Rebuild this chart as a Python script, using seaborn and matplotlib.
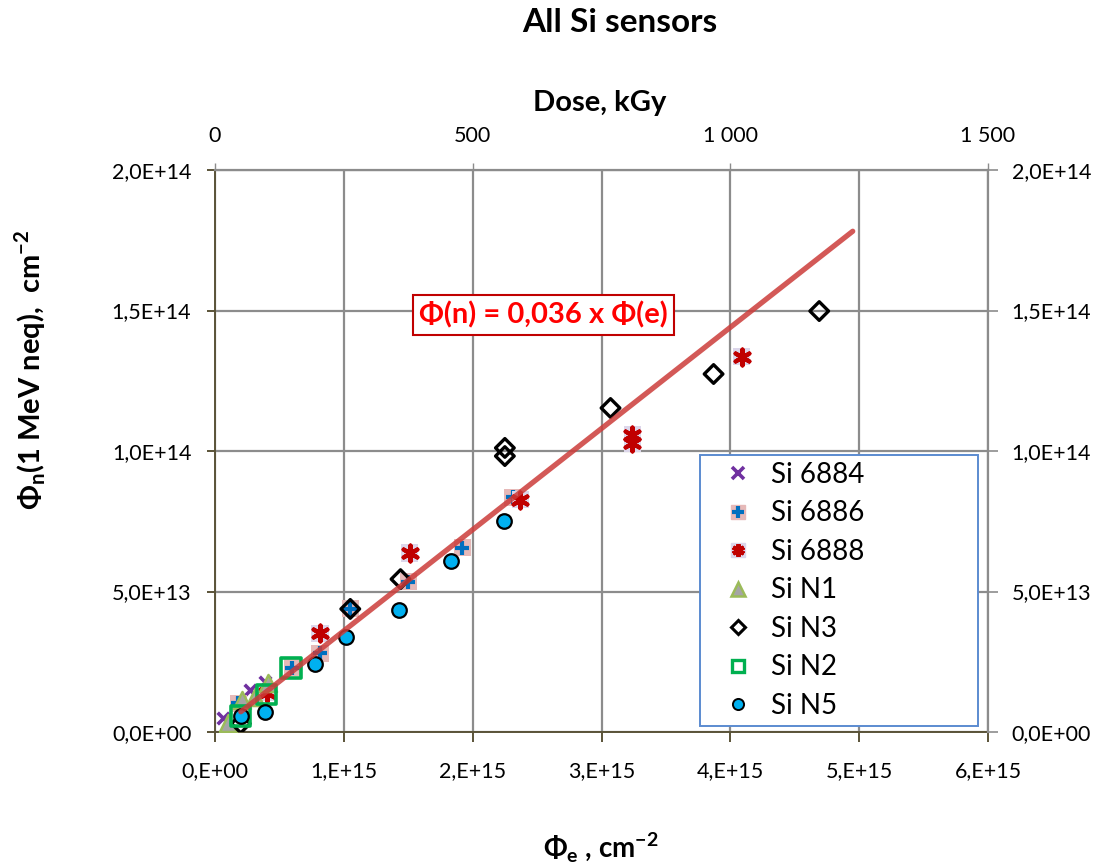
import numpy as np
import pandas as pd
import matplotlib
matplotlib.use("Agg")
import matplotlib.pyplot as plt
from matplotlib.lines import Line2D
import seaborn as sns

# ---- data (fluence of electrons vs. 1 MeV neutron-equivalent fluence) ----
si6884_e = [0.06e15, 0.27e15, 0.39e15]
si6884_n = [0.50e13, 1.50e13, 1.78e13]

si6886_e = [0.18e15, 0.60e15, 0.815e15, 1.05e15, 1.50e15, 1.92e15, 2.31e15]
si6886_n = [1.03e13, 2.28e13, 2.81e13, 4.38e13, 5.34e13, 6.55e13, 8.36e13]

si6888_e = [0.40e15, 0.815e15, 1.51e15, 2.37e15, 3.24e15, 3.24e15, 4.09e15]
si6888_n = [1.39e13, 3.52e13, 6.37e13, 8.26e13, 10.28e13, 10.57e13, 13.35e13]

siN1_e = [0.10e15, 0.21e15, 0.31e15, 0.41e15]
siN1_n = [0.32e13, 1.14e13, 1.25e13, 1.74e13]

siN3_e = [0.20e15, 1.05e15, 1.44e15, 2.25e15, 2.25e15, 3.07e15, 3.87e15, 4.69e15]
siN3_n = [0.30e13, 4.38e13, 5.44e13, 9.82e13, 10.11e13, 11.53e13, 12.74e13, 14.98e13]

siN2_e = [0.20e15, 0.40e15, 0.59e15]
siN2_n = [0.57e13, 1.32e13, 2.28e13]

siN5_e = [0.20e15, 0.39e15, 0.78e15, 1.02e15, 1.43e15, 1.83e15, 2.24e15]
siN5_n = [0.57e13, 0.72e13, 2.42e13, 3.38e13, 4.34e13, 6.09e13, 7.51e13]

fit_slope = 0.036
fit_e = np.array([0.20e15, 4.95e15])

x_ticks = [0, 1e15, 2e15, 3e15, 4e15, 5e15, 6e15]
x_ticklabels = ["0,E+00", "1,E+15", "2,E+15", "3,E+15", "4,E+15", "5,E+15", "6,E+15"]
y_ticks = [0, 5e13, 1e14, 1.5e14, 2e14]
y_ticklabels = ["0,0E+00", "5,0E+13", "1,0E+14", "1,5E+14", "2,0E+14"]
dose_ticks = [0, 500, 1000, 1500]
dose_ticklabels = ["0", "500", "1 000", "1 500"]
fluence_per_kgy = 4e12

# ---- style ----
sns.set_theme(style="white")
FONT = ["Lato", "DejaVu Sans"]
plt.rcParams["font.family"] = FONT
plt.rcParams["text.color"] = "black"
plt.rcParams["mathtext.fontset"] = "custom"
plt.rcParams["mathtext.rm"] = "Lato"
plt.rcParams["mathtext.bf"] = "Lato:bold"

GRID = "#8c8c8c"
SPINE = "#5a5338"
TICK_FS = 15.5

fig = plt.figure(figsize=(11.01, 8.66), dpi=100)
W, H = 1101, 866
ax = fig.add_axes([215 / W, 1 - 732 / H, (988 - 215) / W, (732 - 170) / H])

def frame(e, n):
    return pd.DataFrame({"e": e, "n": n})

c_6884 = "#7030a0"
c_6886 = "#0070c0"
c_6886_bg = "#e6b9b8"
c_6888 = "#c00000"
c_6888_bg = "#dcd6ea"
c_n1_face, c_n1_edge = "#a5a5a5", "#9bbb59"
c_n2 = "#00b050"
c_n5 = "#00b0f0"
star = (6, 2, 0)

sns.scatterplot(data=frame(si6884_e, si6884_n), x="e", y="n", ax=ax, marker="x",
                color=c_6884, s=70, linewidth=2.6, zorder=3)
sns.scatterplot(data=frame(si6886_e, si6886_n), x="e", y="n", ax=ax, marker="s",
                color=c_6886_bg, edgecolor="none", s=150, zorder=3)
sns.scatterplot(data=frame(si6886_e, si6886_n), x="e", y="n", ax=ax, marker="+",
                color=c_6886, s=110, linewidth=3.0, zorder=3)
sns.scatterplot(data=frame(si6888_e, si6888_n), x="e", y="n", ax=ax, marker="s",
                color=c_6888_bg, edgecolor="none", s=150, zorder=3)
sns.scatterplot(data=frame(si6888_e, si6888_n), x="e", y="n", ax=ax, marker=star,
                color=c_6888, s=130, linewidth=3.0, zorder=3)
sns.scatterplot(data=frame(siN1_e, siN1_n), x="e", y="n", ax=ax, marker="^",
                color=c_n1_face, edgecolor=c_n1_edge, linewidth=1.8, s=150, zorder=3)
sns.scatterplot(data=frame(siN3_e, siN3_n), x="e", y="n", ax=ax, marker="D",
                facecolor="none", edgecolor="black", linewidth=2.4, s=90, zorder=3)
sns.scatterplot(data=frame(siN2_e, siN2_n), x="e", y="n", ax=ax, marker="s",
                facecolor="none", edgecolor=c_n2, linewidth=2.6, s=190, zorder=3)
sns.scatterplot(data=frame(siN5_e, siN5_n), x="e", y="n", ax=ax, marker="o",
                color=c_n5, edgecolor="black", linewidth=1.6, s=110, zorder=3)

# linear fit through the origin
sns.lineplot(x=fit_e, y=fit_slope * fit_e, ax=ax, color="#cc3c3a", alpha=0.85,
             linewidth=3.8, zorder=4)

ax.text(2.55e15, 14.84e13, "Φ(n) = 0,036 x Φ(e)", color="#ff0000", fontsize=21,
        fontweight="bold", ha="center", va="center", zorder=6,
        bbox=dict(boxstyle="square,pad=0.22", facecolor="white", edgecolor=c_6888,
                  linewidth=1.5))

# ---- axes ----
ax.set_xlim(0, 6e15)
ax.set_ylim(0, 2e14)
ax.set_xticks(x_ticks)
ax.set_xticklabels(x_ticklabels)
ax.set_yticks(y_ticks)
ax.set_yticklabels(y_ticklabels)
ax.set_xlabel("")
ax.set_ylabel("")
ax.grid(True, color=GRID, linewidth=1.6)
ax.set_axisbelow(True)
for side in ("left", "bottom"):
    ax.spines[side].set_color(SPINE)
    ax.spines[side].set_linewidth(1.4)
ax.spines["right"].set_visible(False)
ax.spines["top"].set_color(GRID)
ax.spines["top"].set_linewidth(1.6)
ax.tick_params(axis="x", direction="out", length=7, width=1.4, color=SPINE,
               labelsize=TICK_FS, labelcolor="black", pad=14, bottom=True)
ax.tick_params(axis="y", direction="out", length=6, width=1.4, color=SPINE,
               labelsize=TICK_FS, labelcolor="black", pad=11, left=True)

ax2 = ax.twinx()
ax2.set_ylim(ax.get_ylim())
ax2.set_yticks(y_ticks)
ax2.set_yticklabels(y_ticklabels)
for side in ("left", "top", "bottom"):
    ax2.spines[side].set_visible(False)
ax2.spines["right"].set_color(GRID)
ax2.spines["right"].set_linewidth(1.6)
ax2.tick_params(axis="y", direction="out", length=7, width=1.2, color=GRID,
                labelsize=TICK_FS, labelcolor="black", pad=10, right=True)
ax2.grid(False)

secax = ax.secondary_xaxis("top", functions=(lambda v: v / fluence_per_kgy,
                                             lambda d: d * fluence_per_kgy))
secax.set_xticks(dose_ticks)
secax.set_xticklabels(dose_ticklabels)
secax.spines["top"].set_visible(False)
secax.tick_params(axis="x", direction="out", length=5, width=1.0, color=GRID,
                  labelsize=TICK_FS, labelcolor="black", pad=12, top=True)

# ---- legend ----
handles = [
    Line2D([], [], linestyle="none", marker="x", color=c_6884, markersize=8,
           markeredgewidth=2.6),
    (Line2D([], [], linestyle="none", marker="s", color=c_6886_bg, markersize=10),
     Line2D([], [], linestyle="none", marker="+", color=c_6886, markersize=9,
            markeredgewidth=3.0)),
    (Line2D([], [], linestyle="none", marker="s", color=c_6888_bg, markersize=10),
     Line2D([], [], linestyle="none", marker=star, color=c_6888, markersize=9,
            markeredgewidth=3.0)),
    Line2D([], [], linestyle="none", marker="^", markerfacecolor=c_n1_face,
           markeredgecolor=c_n1_edge, markersize=10, markeredgewidth=1.8),
    Line2D([], [], linestyle="none", marker="D", markerfacecolor="none",
           markeredgecolor="black", markersize=7, markeredgewidth=2.2),
    Line2D([], [], linestyle="none", marker="s", markerfacecolor="none",
           markeredgecolor=c_n2, markersize=9, markeredgewidth=2.4),
    Line2D([], [], linestyle="none", marker="o", markerfacecolor=c_n5,
           markeredgecolor="black", markersize=8, markeredgewidth=1.4),
]
labels = ["Si 6884", "Si 6886", "Si 6888", "Si N1", "Si N3", "Si N2", "Si N5"]
leg = ax2.legend(handles, labels, loc="upper left", mode="expand",
                 bbox_to_anchor=(700 / W, 1 - 725 / H, 278 / W, 270 / H),
                 bbox_transform=fig.transFigure, borderaxespad=0,
                 fontsize=20, frameon=True, fancybox=False, borderpad=0.25,
                 labelspacing=0.45, handlelength=2.25, handletextpad=0.05,
                 labelcolor="black")
leg.get_frame().set_edgecolor("#5b8bd0")
leg.get_frame().set_linewidth(1.4)
leg.get_frame().set_alpha(1)
leg.set_zorder(10)

# ---- titles ----
fig.text(620 / W, 1 - 22 / H, "All Si sensors", ha="center", va="center",
         fontsize=24, fontweight="bold", color="black")
fig.text(600 / W, 1 - 103 / H, "Dose, kGy", ha="center", va="center",
         fontsize=21, fontweight="bold", color="black")
fig.text(601 / W, 1 - 848 / H, "Φ$_\\mathregular{e}$ , cm$^\\mathregular{-2}$",
         ha="center", va="center", fontsize=20, fontweight="bold", color="black")
fig.text(30 / W, 1 - 370 / H, "Φ$_\\mathregular{n}$(1 MeV neq),  cm$^\\mathregular{-2}$",
         ha="center", va="center", rotation=90, fontsize=21, fontweight="bold",
         color="black")

fig.savefig("out.png", dpi=100)
